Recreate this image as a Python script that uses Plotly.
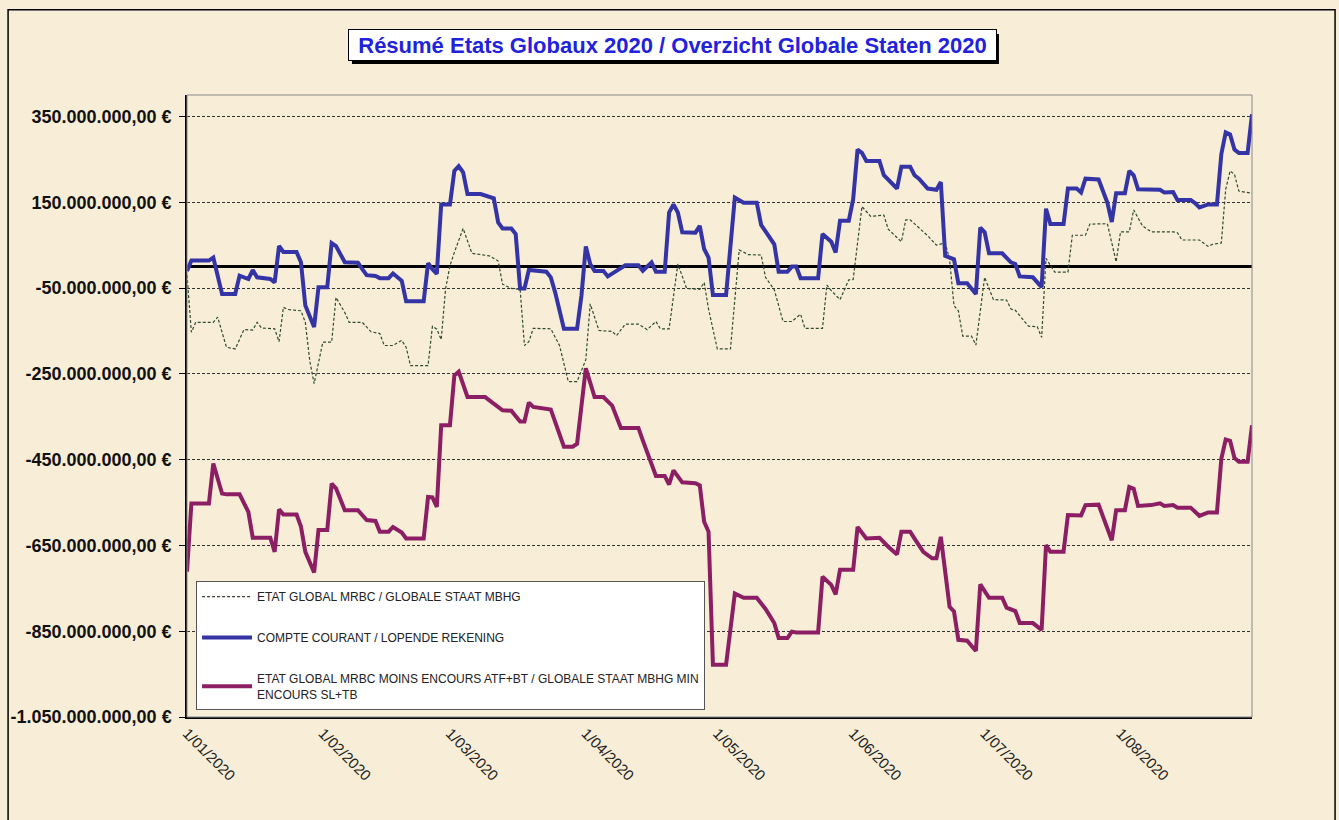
import plotly.graph_objects as go

# values in millions of euro
cc_dates = [
  '2020-01-01', '2020-01-02', '2020-01-06', '2020-01-07', '2020-01-09', '2020-01-12', '2020-01-13',
  '2020-01-15', '2020-01-16', '2020-01-17', '2020-01-20', '2020-01-21', '2020-01-22', '2020-01-23',
  '2020-01-26', '2020-01-27', '2020-01-28', '2020-01-29', '2020-01-30', '2020-01-31', '2020-02-02',
  '2020-02-03', '2020-02-04', '2020-02-06', '2020-02-09', '2020-02-10', '2020-02-11', '2020-02-13',
  '2020-02-14', '2020-02-16', '2020-02-17', '2020-02-19', '2020-02-20', '2020-02-24', '2020-02-25',
  '2020-02-26', '2020-02-27', '2020-02-28', '2020-03-01', '2020-03-02', '2020-03-03', '2020-03-04',
  '2020-03-05', '2020-03-08', '2020-03-11', '2020-03-12', '2020-03-13', '2020-03-15', '2020-03-16',
  '2020-03-17', '2020-03-18', '2020-03-19', '2020-03-23', '2020-03-24', '2020-03-25', '2020-03-27',
  '2020-03-30', '2020-03-31', '2020-04-01', '2020-04-02', '2020-04-03', '2020-04-05', '2020-04-06',
  '2020-04-08', '2020-04-10', '2020-04-13', '2020-04-14', '2020-04-16', '2020-04-17', '2020-04-19',
  '2020-04-20', '2020-04-21', '2020-04-22', '2020-04-23', '2020-04-26', '2020-04-27', '2020-04-28',
  '2020-04-29', '2020-04-30', '2020-05-03', '2020-05-04', '2020-05-05', '2020-05-07', '2020-05-10',
  '2020-05-11', '2020-05-12', '2020-05-14', '2020-05-15', '2020-05-17', '2020-05-18', '2020-05-19',
  '2020-05-20', '2020-05-24', '2020-05-25', '2020-05-27', '2020-05-28', '2020-05-29', '2020-05-31',
  '2020-06-01', '2020-06-02', '2020-06-03', '2020-06-04', '2020-06-07', '2020-06-08', '2020-06-11',
  '2020-06-12', '2020-06-14', '2020-06-15', '2020-06-16', '2020-06-18', '2020-06-20', '2020-06-21',
  '2020-06-22', '2020-06-24', '2020-06-25', '2020-06-27', '2020-06-29', '2020-06-30', '2020-07-01',
  '2020-07-02', '2020-07-05', '2020-07-07', '2020-07-08', '2020-07-09', '2020-07-12', '2020-07-14',
  '2020-07-15', '2020-07-16', '2020-07-19', '2020-07-20', '2020-07-22', '2020-07-23', '2020-07-24',
  '2020-07-27', '2020-07-29', '2020-07-30', '2020-07-31', '2020-08-02', '2020-08-03', '2020-08-04',
  '2020-08-05', '2020-08-10', '2020-08-11', '2020-08-13', '2020-08-14', '2020-08-17', '2020-08-18',
  '2020-08-19', '2020-08-21', '2020-08-23', '2020-08-24', '2020-08-25', '2020-08-26', '2020-08-27',
  '2020-08-28', '2020-08-30', '2020-08-31',
]
cc_values = [
  -10, 14, 14, 21, -64, -64, -21,
  -29, -8, -25, -29, -37, 48, 34,
  34, 10, -91, -114, -141, -48, -48,
  55, 48, 10, 9, -6, -20, -22,
  -27, -27, -16, -33, -81, -81, 8,
  -6, -17, 145, 145, 223, 234, 220,
  169, 169, 159, 103, 89, 89, 76,
  -51, -51, -8, -12, -25, -60, -145,
  -145, -68, 47, 6, -10, -10, -23,
  -10, 3, 3, -10, 10, -12, -12,
  126, 145, 126, 80, 79, 95, 41,
  21, -66, -66, 56, 161, 149, 149,
  97, 83, 52, -12, -12, 0, 0,
  -27, -27, 76, 58, 33, 107, 107,
  157, 273, 265, 246, 246, 213, 182,
  233, 233, 213, 205, 182, 179, 197,
  25, 17, -39, -39, -64, 91, 80,
  31, 31, 10, 6, -23, -25, -48,
  135, 99, 99, 182, 182, 173, 205,
  203, 149, 104, 171, 171, 223, 213,
  180, 179, 173, 174, 155, 155, 148,
  138, 145, 145, 262, 313, 308, 273,
  265, 265, 355,
]

eg_dates = [
  '2020-01-01', '2020-01-02', '2020-01-03', '2020-01-07', '2020-01-08', '2020-01-10', '2020-01-12',
  '2020-01-14', '2020-01-16', '2020-01-17', '2020-01-18', '2020-01-21', '2020-01-22', '2020-01-23',
  '2020-01-24', '2020-01-27', '2020-01-28', '2020-01-29', '2020-01-30', '2020-02-01', '2020-02-03',
  '2020-02-04', '2020-02-06', '2020-02-07', '2020-02-10', '2020-02-12', '2020-02-14', '2020-02-15',
  '2020-02-17', '2020-02-19', '2020-02-20', '2020-02-21', '2020-02-25', '2020-02-26', '2020-02-27',
  '2020-02-28', '2020-02-29', '2020-03-01', '2020-03-02', '2020-03-04', '2020-03-06', '2020-03-10',
  '2020-03-12', '2020-03-13', '2020-03-15', '2020-03-17', '2020-03-18', '2020-03-19', '2020-03-20',
  '2020-03-24', '2020-03-26', '2020-03-28', '2020-03-30', '2020-04-01', '2020-04-02', '2020-04-04',
  '2020-04-07', '2020-04-08', '2020-04-10', '2020-04-13', '2020-04-15', '2020-04-17', '2020-04-18',
  '2020-04-20', '2020-04-22', '2020-04-24', '2020-04-27', '2020-04-28', '2020-04-29', '2020-05-01',
  '2020-05-04', '2020-05-06', '2020-05-08', '2020-05-11', '2020-05-12', '2020-05-14', '2020-05-16',
  '2020-05-18', '2020-05-20', '2020-05-21', '2020-05-25', '2020-05-26', '2020-05-27', '2020-05-29',
  '2020-05-31', '2020-06-01', '2020-06-03', '2020-06-05', '2020-06-08', '2020-06-09', '2020-06-12',
  '2020-06-13', '2020-06-14', '2020-06-18', '2020-06-20', '2020-06-22', '2020-06-23', '2020-06-24',
  '2020-06-25', '2020-06-26', '2020-06-28', '2020-06-29', '2020-07-01', '2020-07-03', '2020-07-06',
  '2020-07-07', '2020-07-08', '2020-07-11', '2020-07-13', '2020-07-14', '2020-07-15', '2020-07-17',
  '2020-07-20', '2020-07-21', '2020-07-24', '2020-07-25', '2020-07-29', '2020-07-31', '2020-08-01',
  '2020-08-03', '2020-08-04', '2020-08-06', '2020-08-08', '2020-08-13', '2020-08-14', '2020-08-15',
  '2020-08-19', '2020-08-21', '2020-08-22', '2020-08-24', '2020-08-25', '2020-08-26', '2020-08-27',
  '2020-08-28', '2020-08-31',
]
eg_values = [
  -20, -153, -130, -130, -118, -188, -192,
  -147, -148, -130, -143, -145, -175, -95,
  -100, -103, -130, -219, -273, -176, -176,
  -72, -107, -130, -130, -152, -156, -184,
  -184, -172, -188, -231, -231, -139, -146,
  -170, -52, 2, 33, 89, 31, 25,
  13, -41, -51, -53, -184, -175, -144,
  -145, -184, -268, -268, -217, -87, -149,
  -151, -161, -134, -134, -147, -128, -145,
  -145, 6, -51, -53, -37, -99, -192,
  -192, 39, 28, 27, -25, -54, -128,
  -128, -111, -144, -144, -43, -56, -77,
  -31, -30, 140, 117, 120, 87, 58,
  109, 109, 72, 50, 55, 17, -91,
  -103, -162, -162, -183, -25, -77, -78,
  -99, -102, -139, -140, -165, 19, -13,
  -13, 73, 73, 99, 100, 11, 81,
  81, 132, 95, 81, 81, 79, 62,
  62, 47, 52, 55, 180, 223, 215,
  176, 171,
]

net_dates = [
  '2020-01-01', '2020-01-02', '2020-01-06', '2020-01-07', '2020-01-09', '2020-01-10', '2020-01-13',
  '2020-01-15', '2020-01-16', '2020-01-20', '2020-01-21', '2020-01-22', '2020-01-23', '2020-01-26',
  '2020-01-27', '2020-01-28', '2020-01-30', '2020-01-31', '2020-02-02', '2020-02-03', '2020-02-04',
  '2020-02-06', '2020-02-09', '2020-02-11', '2020-02-13', '2020-02-14', '2020-02-16', '2020-02-17',
  '2020-02-19', '2020-02-20', '2020-02-24', '2020-02-25', '2020-02-26', '2020-02-27', '2020-02-28',
  '2020-03-01', '2020-03-02', '2020-03-03', '2020-03-05', '2020-03-09', '2020-03-10', '2020-03-13',
  '2020-03-15', '2020-03-17', '2020-03-18', '2020-03-19', '2020-03-20', '2020-03-24', '2020-03-25',
  '2020-03-27', '2020-03-29', '2020-03-30', '2020-04-01', '2020-04-03', '2020-04-05', '2020-04-07',
  '2020-04-09', '2020-04-13', '2020-04-14', '2020-04-17', '2020-04-19', '2020-04-20', '2020-04-21',
  '2020-04-23', '2020-04-26', '2020-04-27', '2020-04-28', '2020-04-29', '2020-04-30', '2020-05-03',
  '2020-05-05', '2020-05-07', '2020-05-10', '2020-05-12', '2020-05-14', '2020-05-15', '2020-05-17',
  '2020-05-18', '2020-05-19', '2020-05-24', '2020-05-25', '2020-05-27', '2020-05-28', '2020-05-29',
  '2020-06-01', '2020-06-02', '2020-06-04', '2020-06-07', '2020-06-09', '2020-06-11', '2020-06-12',
  '2020-06-14', '2020-06-15', '2020-06-17', '2020-06-19', '2020-06-20', '2020-06-21', '2020-06-23',
  '2020-06-24', '2020-06-25', '2020-06-27', '2020-06-29', '2020-06-30', '2020-07-02', '2020-07-05',
  '2020-07-06', '2020-07-08', '2020-07-09', '2020-07-12', '2020-07-14', '2020-07-15', '2020-07-16',
  '2020-07-19', '2020-07-20', '2020-07-23', '2020-07-24', '2020-07-27', '2020-07-30', '2020-07-31',
  '2020-08-02', '2020-08-03', '2020-08-04', '2020-08-05', '2020-08-08', '2020-08-10', '2020-08-11',
  '2020-08-13', '2020-08-14', '2020-08-17', '2020-08-19', '2020-08-21', '2020-08-23', '2020-08-24',
  '2020-08-25', '2020-08-26', '2020-08-27', '2020-08-28', '2020-08-30', '2020-08-31',
]
net_values = [
  -711, -552, -552, -459, -529, -531, -531,
  -572, -632, -632, -665, -566, -578, -578,
  -606, -665, -713, -614, -614, -506, -517,
  -568, -568, -591, -593, -618, -618, -607,
  -620, -634, -634, -537, -538, -560, -370,
  -370, -254, -245, -304, -304, -312, -335,
  -336, -361, -361, -317, -327, -333, -362,
  -420, -420, -413, -237, -304, -304, -324,
  -376, -376, -405, -488, -488, -508, -475,
  -503, -505, -510, -595, -618, -928, -928,
  -762, -772, -772, -798, -831, -866, -866,
  -851, -853, -853, -723, -742, -764, -707,
  -707, -607, -634, -632, -653, -671, -618,
  -618, -634, -665, -680, -680, -630, -793,
  -804, -870, -872, -896, -741, -772, -772,
  -795, -803, -831, -831, -847, -649, -665,
  -665, -579, -580, -556, -555, -638, -568,
  -568, -514, -518, -558, -556, -552, -558,
  -556, -562, -562, -581, -573, -573, -448,
  -403, -406, -446, -455, -455, -370,
]

series_names = [
  'ETAT GLOBAL MRBC / GLOBALE STAAT MBHG',
  'COMPTE COURANT / LOPENDE REKENING',
  'ETAT GLOBAL MRBC MOINS ENCOURS ATF+BT / GLOBALE STAAT MBHG MIN<br>ENCOURS SL+TB',
]

month_ticks = ['2020-01-01', '2020-02-01', '2020-03-01', '2020-04-01',
               '2020-05-01', '2020-06-01', '2020-07-01', '2020-08-01']
month_labels = ['1/01/2020', '1/02/2020', '1/03/2020', '1/04/2020',
                '1/05/2020', '1/06/2020', '1/07/2020', '1/08/2020']

y_ticks = [350e6, 150e6, -50e6, -250e6, -450e6, -650e6, -850e6, -1050e6]


def euro_label(v):
  s = f'{abs(v):,.2f}'.replace(',', ' ').replace('.', ',').replace(' ', '.')
  return ('-' if v < 0 else '') + s + ' €'


BG = '#f8eed8'

fig = go.Figure()

fig.add_trace(go.Scatter(
  x = eg_dates,
  y = [v * 1e6 for v in eg_values],
  mode = 'lines',
  name = series_names[0],
  legendgroup = 'a',
  line = dict(color = '#2f4a2f', width = 1.2, dash = '3px,2px')
))

fig.add_trace(go.Scatter(
  x = cc_dates,
  y = [v * 1e6 for v in cc_values],
  mode = 'lines',
  name = series_names[1],
  legendgroup = 'b',
  line = dict(color = '#3434a6', width = 4)
))

fig.add_trace(go.Scatter(
  x = net_dates,
  y = [v * 1e6 for v in net_values],
  mode = 'lines',
  name = series_names[2],
  legendgroup = 'c',
  line = dict(color = '#8c1f64', width = 4)
))

title_text = 'Résumé Etats Globaux 2020 / Overzicht Globale Staten 2020'

fig.update_layout(
  width = 1339,
  height = 820,
  paper_bgcolor = BG,
  plot_bgcolor = BG,
  margin = dict(l=187, r=87, t=95, b=103),
  font = dict(family = 'Liberation Sans', color = '#111'),
  showlegend = True,
  legend = dict(
    x = 0.0085, y = 0.2186, xanchor = 'left', yanchor = 'top',
    bgcolor = 'white', bordercolor = '#555', borderwidth = 1,
    font = dict(family = 'Liberation Sans', size = 12, color = '#222'),
    itemwidth = 50,
    tracegroupgap = 22,
    traceorder = 'grouped',
  ),
  annotations = [
    dict(text = title_text, xref = 'paper', yref = 'paper', x = 0.4554, y = 1.0804,
         xanchor = 'center', yanchor = 'middle', showarrow = False,
         width = 641, height = 24, align = 'center',
         font = dict(family = 'Liberation Sans', size = 22, color = '#2222dd', weight = 'bold'),
         bgcolor = 'white', bordercolor = 'black', borderwidth = 1, borderpad = 3),
  ],
  shapes = [
    # outer chart border
    dict(type = 'rect', xref = 'paper', yref = 'paper', x0 = -0.168, x1 = 1.078,
         y0 = -0.2, y1 = 1.137, line = dict(color = 'black', width = 1.5)),
    # title drop shadow
    dict(type = 'rect', xref = 'paper', yref = 'paper', x0 = 0.1549, x1 = 0.7624,
         y0 = 1.0498, y1 = 1.0981, fillcolor = 'black', line = dict(width = 0),
         layer = 'below'),
    # plot area frame
    dict(type = 'rect', xref = 'paper', yref = 'paper', x0 = 0, x1 = 1, y0 = 0, y1 = 1,
         line = dict(color = '#888', width = 1)),
  ],
)

fig.update_xaxes(
  type = 'date',
  range = ['2020-01-01', '2020-08-31'],
  tickvals = month_ticks,
  ticktext = month_labels,
  tickangle = 45,
  tickfont = dict(family = 'Liberation Sans', size = 15, color = '#222'),
  showgrid = False,
  showline = True, linecolor = 'black', linewidth = 1.5,
  ticks = '',
  zeroline = False,
)

fig.update_yaxes(
  range = [-1050e6, 400e6],
  tickvals = y_ticks,
  ticktext = [euro_label(v) for v in y_ticks],
  tickfont = dict(family = 'Liberation Sans', size = 18, color = '#111', weight = 'bold'),
  ticks = 'outside', ticklen = 6, tickcolor = 'black',
  ticklabelstandoff = 4,
  showgrid = True, gridcolor = '#333', gridwidth = 1, griddash = '3px,2px',
  showline = True, linecolor = 'black', linewidth = 1.5,
  zeroline = True, zerolinecolor = 'black', zerolinewidth = 3,
)

fig.write_html(
  'out.html',
  config = {'displayModeBar': False},
  post_script = "document.body.style.margin = '0'; document.body.style.overflow = 'hidden';",
)
